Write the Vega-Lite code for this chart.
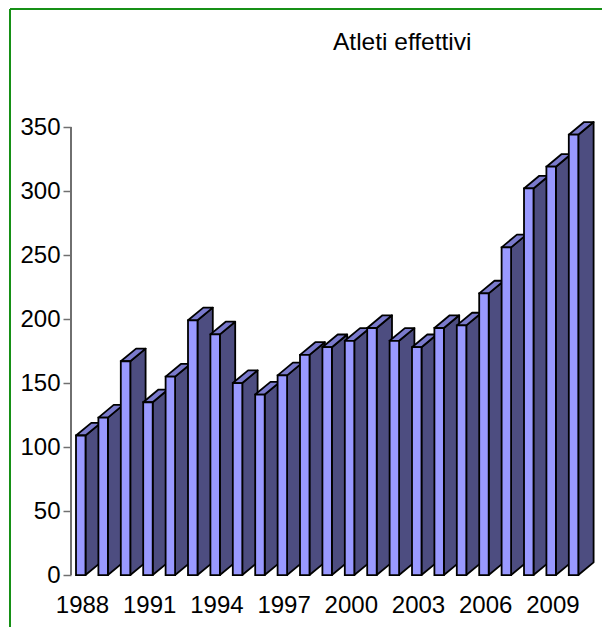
{"$schema":"https://vega.github.io/schema/vega-lite/v6.json","width":592,"height":618,"autosize":"none","padding":{"left":10,"top":9,"right":0,"bottom":0},"background":"white","view":{"stroke":null},
"title":{"text":"Atleti effettivi","anchor":"start","frame":"group","dx":323,"offset":-47,"font":"Liberation Sans","fontSize":24.5,"fontWeight":"normal","color":"black"},
"data":{"values":[{"year":1988,"value":109},{"year":1989,"value":123},{"year":1990,"value":167},{"year":1991,"value":135},{"year":1992,"value":155},{"year":1993,"value":199},{"year":1994,"value":188},{"year":1995,"value":150},{"year":1996,"value":141},{"year":1997,"value":156},{"year":1998,"value":172},{"year":1999,"value":178},{"year":2000,"value":183},{"year":2001,"value":193},{"year":2002,"value":183},{"year":2003,"value":178},{"year":2004,"value":193},{"year":2005,"value":195},{"year":2006,"value":220},{"year":2007,"value":256},{"year":2008,"value":302},{"year":2009,"value":319},{"year":2010,"value":344}]},
"layer":[
{"transform":[{"calculate":"[datum.year+0.424,datum.year+1.107]","as":"sx"},{"calculate":"[datum.value,datum.value+9.9]","as":"sy"},{"calculate":"[0,9.9]","as":"sy2"},{"flatten":["sx","sy","sy2"]}],
"mark":{"type":"area","orient":"vertical","fill":"#4d4d80","stroke":"black","strokeWidth":1.8,"strokeJoin":"round","clip":false},
"encoding":{"x":{"field":"sx","type":"quantitative","scale":{"domain":[1985.0536,2011.482],"nice":false,"zero":false},"axis":{"values":[1988,1991,1994,1997,2000,2003,2006,2009],"format":"d","title":null,"orient":"bottom","offset":-52,"domain":false,"ticks":false,"grid":false,"labelFont":"Liberation Sans","labelFontSize":24,"labelColor":"black","labelOffset":6,"labelPadding":18,"labelFlush":false,"labelOverlap":false}},
"y":{"field":"sy","type":"quantitative","stack":null,"scale":{"domain":[-40.6,442.2],"nice":false,"zero":false},"axis":{"values":[0,50,100,150,200,250,300,350],"title":null,"orient":"left","offset":-61,"domain":false,"grid":false,"tickColor":"#707070","tickSize":8,"tickWidth":1.5,"labelFont":"Liberation Sans","labelFontSize":24,"labelColor":"black","labelPadding":3,"labelOverlap":false}},
"y2":{"field":"sy2"},"detail":{"field":"year"}}},
{"transform":[{"calculate":"[datum.value,datum.value+9.9]","as":"ty"},{"calculate":"[datum.year,datum.year+0.683]","as":"tx"},{"calculate":"[datum.year+0.424,datum.year+1.107]","as":"tx2"},{"flatten":["ty","tx","tx2"]}],
"mark":{"type":"area","orient":"horizontal","fill":"#7a7acc","stroke":"black","strokeWidth":1.8,"strokeJoin":"round"},
"encoding":{"y":{"field":"ty","type":"quantitative"},"x":{"field":"tx","type":"quantitative","stack":null},"x2":{"field":"tx2"},"detail":{"field":"year"}}},
{"transform":[{"calculate":"datum.year+0.424","as":"fx2"},{"calculate":"0","as":"base"}],
"mark":{"type":"rect","fill":"#9999ff","stroke":"black","strokeWidth":1.8},
"encoding":{"x":{"field":"year","type":"quantitative"},"x2":{"field":"fx2"},"y":{"field":"value","type":"quantitative"},"y2":{"field":"base"}}},
{"mark":{"type":"rule","color":"#707070","strokeWidth":1.5},"encoding":{"x":{"datum":1987.777},"y":{"datum":0},"y2":{"datum":350}}},
{"mark":{"type":"rule","color":"#169016","strokeWidth":2},"encoding":{"x":{"datum":1985.0536}}},
{"mark":{"type":"rule","color":"#169016","strokeWidth":2},"encoding":{"y":{"datum":442.2}}}
]}
